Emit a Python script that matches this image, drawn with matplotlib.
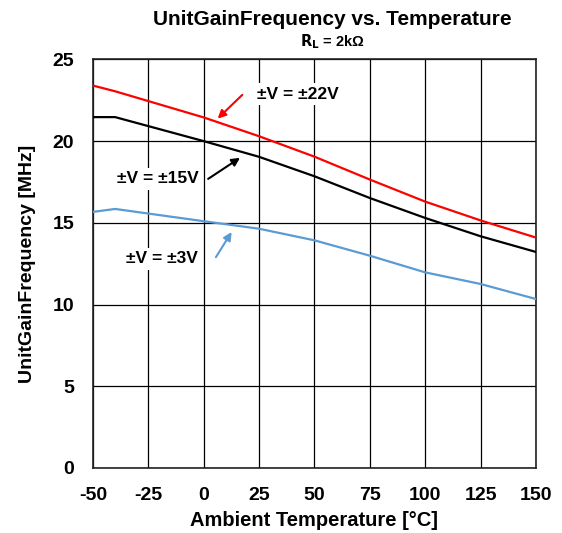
import matplotlib.pyplot as plt
import numpy as np

# data
temp = [-50, -40, 0, 25, 50, 75, 100, 125, 150]
ugf_22v = [23.4, 23.05, 21.45, 20.3, 19.05, 17.65, 16.3, 15.15, 14.1]
ugf_15v = [21.47, 21.47, 20.0, 19.04, 17.85, 16.52, 15.3, 14.18, 13.22]
ugf_3v = [15.67, 15.85, 15.1, 14.64, 13.93, 12.99, 11.97, 11.26, 10.34]

plt.rcParams['font.family'] = ['Liberation Sans', 'DejaVu Sans']
plt.rcParams['font.weight'] = 'bold'
plt.rcParams['axes.unicode_minus'] = False

fig = plt.figure(figsize=(5.62, 5.33), dpi=100)
ax = fig.add_axes([0.1655, 0.122, 0.788, 0.7665])

ax.plot(temp, ugf_22v, color='#FF0000', lw=1.6, zorder=3)
ax.plot(temp, ugf_15v, color='black', lw=1.6, zorder=3)
ax.plot(temp, ugf_3v, color='#5B9BD5', lw=1.6, zorder=3)

ax.set_xlim(-50, 150)
ax.set_ylim(0, 25)
ax.set_xticks(np.arange(-50, 151, 25))
ax.set_yticks(np.arange(0, 26, 5))
ax.grid(True, color='black', lw=0.9)
ax.tick_params(axis='x', length=0, labelsize=14, pad=14)
ax.tick_params(axis='y', length=0, labelsize=14, pad=13.5)
for lab in ax.get_xticklabels() + ax.get_yticklabels():
    lab.set_fontweight('bold')
for s in ax.spines.values():
    s.set_linewidth(1.2)
    s.set_color('#222222')

ax.set_xlabel('Ambient Temperature [°C]', fontsize=14.5, fontweight='bold', labelpad=5)
ax.set_ylabel('UnitGainFrequency [MHz]', fontsize=14, fontweight='bold', labelpad=12)

fig.text(0.591, 0.964, 'UnitGainFrequency vs. Temperature', ha='center', va='center',
         fontsize=15, fontweight='bold')
fig.text(0.592, 0.921, '$\\mathbf{R_L}$ = 2kΩ', ha='center', va='center',
         fontsize=10.5, fontweight='bold')

box = dict(boxstyle='square,pad=0.2', fc='white', ec='none')
labels = [('±V = ±22V', (24.0, 22.86), 'left', '#FF0000', (6.3, 21.38), (17.4, 22.83)),
          ('±V = ±15V', (-20.9, 17.69), 'center', 'black', (16.4, 18.98), (2.0, 17.69)),
          ('±V = ±3V', (-19.0, 12.79), 'center', '#5B9BD5', (12.6, 14.44), (5.5, 12.9))]
for txt, pos, ha, col, head, tail in labels:
    ax.text(pos[0], pos[1], txt, fontsize=12.5, fontweight='bold', ha=ha, va='center',
            bbox=box, zorder=4)
    ax.annotate('', xy=head, xytext=tail,
                arrowprops=dict(arrowstyle='-|>', color=col, lw=1.5,
                                shrinkA=0, shrinkB=0, mutation_scale=12),
                zorder=5)

fig.savefig('out.png', dpi=100)
